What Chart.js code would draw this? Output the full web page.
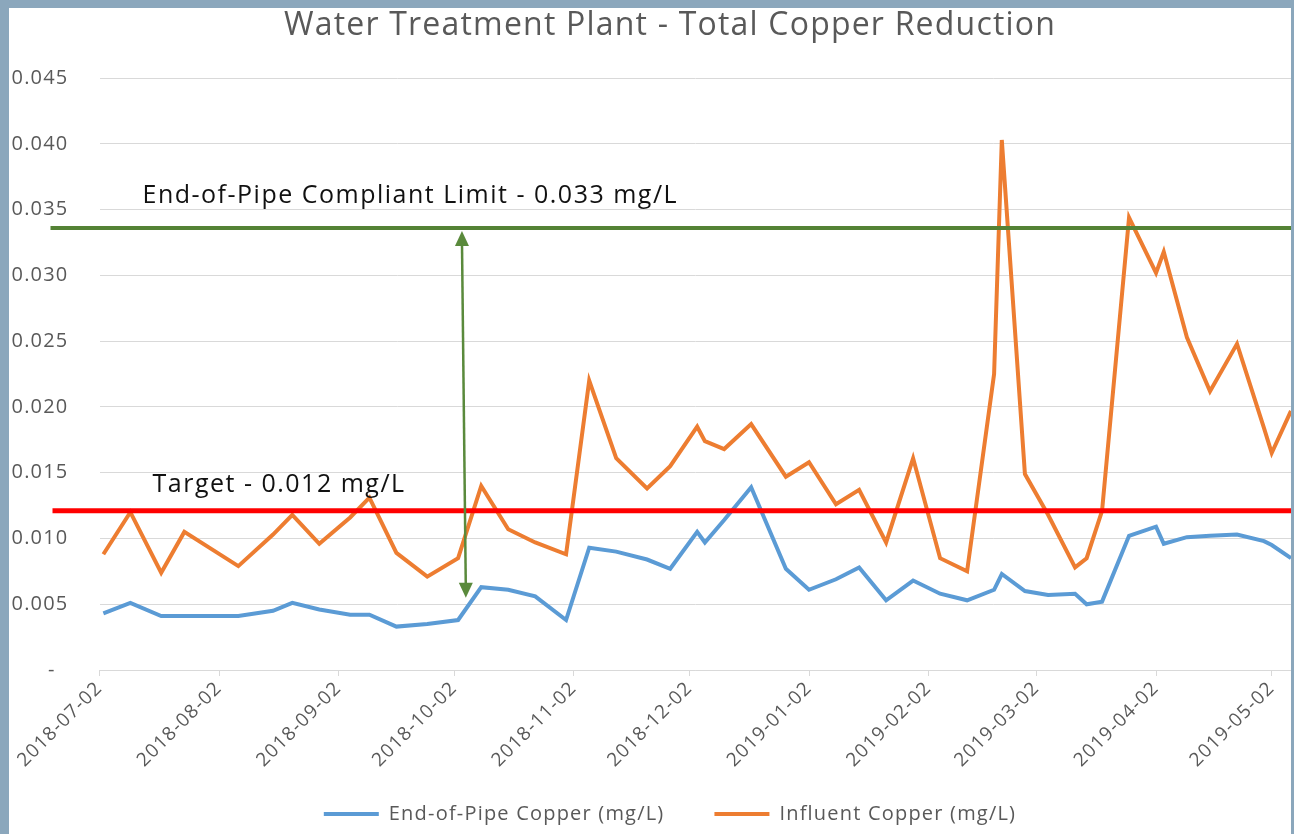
<!DOCTYPE html>
<html>
<head>
<meta charset="utf-8">
<title>Water Treatment Plant - Total Copper Reduction</title>
<script src="https://cdn.jsdelivr.net/npm/chart.js@4.4.1/dist/chart.umd.min.js"></script>
<style>
  html, body { margin: 0; padding: 0; }
  body { width: 1294px; height: 834px; background: #8ba7bc; position: relative; overflow: hidden; }
  #frame { position: absolute; left: 9px; top: 8px; width: 1282px; height: 826px; background: #fff; }
  #frame canvas { display: block; }
</style>
</head>
<body>
<div id="frame"><canvas id="copperChart" width="1282" height="826"></canvas></div>
<script>
/* --- data --- */

// sample dates (roughly weekly)
const sampleDates = [
    '2018-07-03', '2018-07-10', '2018-07-18', '2018-07-24', '2018-08-07', '2018-08-16',
    '2018-08-21', '2018-08-28', '2018-09-05', '2018-09-10', '2018-09-17', '2018-09-25',
    '2018-10-03', '2018-10-09', '2018-10-16', '2018-10-23', '2018-10-31', '2018-11-06',
    '2018-11-13', '2018-11-21', '2018-11-27', '2018-12-04', '2018-12-06', '2018-12-11',
    '2018-12-18', '2018-12-27', '2019-01-02', '2019-01-09', '2019-01-15', '2019-01-22',
    '2019-01-29', '2019-02-05', '2019-02-12', '2019-02-19', '2019-02-21', '2019-02-27',
    '2019-03-05', '2019-03-12', '2019-03-15', '2019-03-19', '2019-03-26', '2019-04-02',
    '2019-04-04', '2019-04-10', '2019-04-16', '2019-04-23', '2019-04-30', '2019-05-02',
    '2019-05-07'
];

// End-of-Pipe Copper (mg/L)
const endOfPipe = [
    0.0043, 0.0051, 0.0041, 0.0041, 0.0041, 0.0045,
    0.0051, 0.0046, 0.0042, 0.0042, 0.0033, 0.0035,
    0.0038, 0.0063, 0.0061, 0.0056, 0.0038, 0.0093,
    0.0090, 0.0084, 0.0077, 0.0105, 0.0097, 0.0114,
    0.0139, 0.0077, 0.0061, 0.0069, 0.0078, 0.0053,
    0.0068, 0.0058, 0.0053, 0.0061, 0.0073, 0.0060,
    0.0057, 0.0058, 0.0050, 0.0052, 0.0102, 0.0109,
    0.0096, 0.0101, 0.0102, 0.0103, 0.0098, 0.0095,
    0.0085
];

// Influent Copper (mg/L)
const influent = [
    0.0088, 0.0120, 0.0074, 0.0105, 0.0079, 0.0103,
    0.0118, 0.0096, 0.0116, 0.0131, 0.0089, 0.0071,
    0.0085, 0.0140, 0.0107, 0.0097, 0.0088, 0.0220,
    0.0161, 0.0138, 0.0155, 0.0185, 0.0174, 0.0168,
    0.0187, 0.0147, 0.0158, 0.0126, 0.0137, 0.0097,
    0.0161, 0.0085, 0.0075, 0.0225, 0.0403, 0.0149,
    0.0118, 0.0078, 0.0085, 0.0121, 0.0344, 0.0302,
    0.0318, 0.0253, 0.0212, 0.0248, 0.0184, 0.0165,
    0.0197
];

// axis
const axisTickDates = [
    '2018-07-02', '2018-08-02', '2018-09-02', '2018-10-02', '2018-11-02', '2018-12-02',
    '2019-01-02', '2019-02-02', '2019-03-02', '2019-04-02', '2019-05-02'
];
const axisEnd = '2019-05-07';
const yTicks = [0, 0.005, 0.010, 0.015, 0.020, 0.025, 0.030, 0.035, 0.040, 0.045];

// reference levels (as drawn on the original)
const limitLevel = 0.0336;
const limitText = 'End-of-Pipe Compliant Limit - 0.033 mg/L';
const targetLevel = 0.0121;
const targetText = 'Target - 0.012 mg/L';
const arrowDates = ['2018-10-04', '2018-10-05'];   // top, bottom
const arrowBottomLevel = 0.0055;

/* --- helpers --- */

const START = Date.UTC(2018, 6, 2);
const DAY = 86400000;
const toDay = iso => Math.round((Date.parse(iso) - START) / DAY);
const toLabel = day => new Date(START + day * DAY).toISOString().slice(0, 10);

const axisTicks = axisTickDates.map(toDay);

// the original text is set wide, spread the letters a little
const wideText = {
    id: 'wideText',
    beforeUpdate(chart) { chart.ctx.letterSpacing = '1.2px'; },
    beforeDraw(chart) { chart.ctx.letterSpacing = '1.2px'; }
};

// 参照線・注記
const refLines = {
    id: 'refLines',
    afterDatasetsDraw(chart) {
        const { ctx, chartArea, width } = chart;
        const x = chart.scales.x, y = chart.scales.y;
        ctx.save();

        // green limit line
        const gy = y.getPixelForValue(limitLevel);
        ctx.strokeStyle = '#548235';
        ctx.lineWidth = 4;
        ctx.beginPath();
        ctx.moveTo(chartArea.left - 49, gy);
        ctx.lineTo(width, gy);
        ctx.stroke();

        // red target line
        const ry = y.getPixelForValue(targetLevel);
        ctx.strokeStyle = '#ff0000';
        ctx.lineWidth = 5;
        ctx.beginPath();
        ctx.moveTo(chartArea.left - 47, ry);
        ctx.lineTo(width, ry);
        ctx.stroke();

        // double arrow
        const ax1 = x.getPixelForValue(toDay(arrowDates[0]));
        const ax2 = x.getPixelForValue(toDay(arrowDates[1]));
        const ay1 = gy + 3;
        const ay2 = y.getPixelForValue(arrowBottomLevel);
        ctx.strokeStyle = '#5a8a3c';
        ctx.fillStyle = '#5a8a3c';
        ctx.lineWidth = 2.5;
        ctx.beginPath();
        ctx.moveTo(ax1, ay1 + 10);
        ctx.lineTo(ax2, ay2 - 10);
        ctx.stroke();
        ctx.beginPath();
        ctx.moveTo(ax1, ay1);
        ctx.lineTo(ax1 - 7, ay1 + 15);
        ctx.lineTo(ax1 + 7, ay1 + 15);
        ctx.closePath();
        ctx.fill();
        ctx.beginPath();
        ctx.moveTo(ax2, ay2);
        ctx.lineTo(ax2 - 7, ay2 - 15);
        ctx.lineTo(ax2 + 7, ay2 - 15);
        ctx.closePath();
        ctx.fill();

        // labels
        ctx.fillStyle = '#111';
        ctx.font = "25px 'Open Sans', sans-serif";
        ctx.letterSpacing = '1.5px';
        ctx.textBaseline = 'middle';
        ctx.textAlign = 'left';
        ctx.fillText(limitText, chartArea.left + 43, gy - 32);
        ctx.fillText(targetText, chartArea.left + 53, ry - 26);

        ctx.restore();
    }
};

Chart.defaults.font.family = "'Open Sans', sans-serif";
Chart.defaults.color = '#595959';

window.onload = () => {
    const ctx = document.getElementById('copperChart').getContext('2d');
    new Chart(ctx, {
        type: 'line',
        data: {
            datasets: [
                {
                    label: 'End-of-Pipe Copper (mg/L)',
                    data: sampleDates.map((d, i) => ({ x: toDay(d), y: endOfPipe[i] })),
                    borderColor: '#5b9bd5',
                    backgroundColor: '#5b9bd5',
                    borderWidth: 4,
                    pointRadius: 0,
                    tension: 0
                },
                {
                    label: 'Influent Copper (mg/L)',
                    data: sampleDates.map((d, i) => ({ x: toDay(d), y: influent[i] })),
                    borderColor: '#ed7d31',
                    backgroundColor: '#ed7d31',
                    borderWidth: 4,
                    pointRadius: 0,
                    tension: 0
                }
            ]
        },
        options: {
            responsive: false,
            animation: false,
            layout: { padding: { left: 40, right: 0, top: 0, bottom: 0 } },
            plugins: {
                title: {
                    display: true,
                    text: 'Water Treatment Plant - Total Copper Reduction',
                    color: '#595959',
                    font: { size: 32, weight: 'normal', lineHeight: 1.1 },
                    padding: { top: 0, bottom: 35 }
                },
                legend: {
                    position: 'bottom',
                    labels: {
                        usePointStyle: true,
                        pointStyle: 'line',
                        pointStyleWidth: 55,
                        color: '#595959',
                        font: { size: 20, lineHeight: 1.2 },
                        padding: 50
                    }
                },
                tooltip: { enabled: false }
            },
            scales: {
                x: {
                    type: 'linear',
                    min: 0,
                    max: toDay(axisEnd),
                    afterBuildTicks: s => { s.ticks = axisTicks.map(v => ({ value: v })); },
                    afterFit: s => {
                        s.height = 84;
                        s._computeLabelArea = () => null;   // let the rotated dates hang below
                    },
                    ticks: {
                        autoSkip: false,
                        minRotation: 45,
                        maxRotation: 45,
                        font: { size: 19 },
                        color: '#595959',
                        padding: 1,
                        callback: v => toLabel(v)
                    },
                    grid: { drawOnChartArea: false, drawTicks: true, tickLength: 6, color: '#d9d9d9' },
                    border: { color: '#d9d9d9', width: 1 }
                },
                y: {
                    min: 0,
                    max: 0.045,
                    afterBuildTicks: s => { s.ticks = yTicks.map(v => ({ value: v })); },
                    afterFit: s => {
                        s.width = 50.5;
                        s._computeLabelArea = () => null;   // labels sit in the left padding
                    },
                    ticks: {
                        font: { size: 20 },
                        color: '#595959',
                        padding: 31,
                        callback: v => v === 0 ? '-  ' : v.toFixed(3)
                    },
                    grid: { color: '#d9d9d9', lineWidth: 1, drawTicks: false },
                    border: { display: false }
                }
            }
        },
        plugins: [wideText, refLines]
    });
};
</script>
</body>
</html>
